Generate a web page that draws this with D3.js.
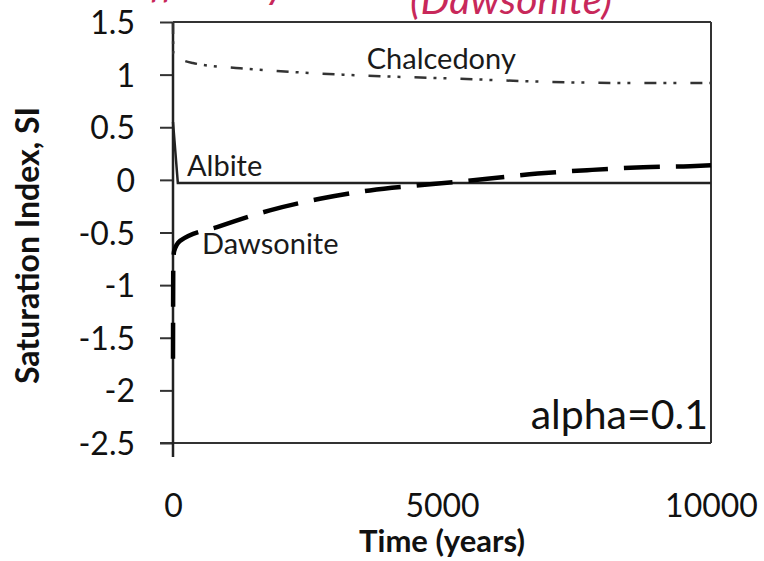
<!DOCTYPE html>
<html>
<head>
<meta charset="utf-8">
<script src="https://cdn.jsdelivr.net/npm/d3@7"></script>
<style>
  body { margin: 0; background: #fff; }
  svg { display: block; font-family: Lato, "Noto Sans", sans-serif; }
</style>
</head>
<body>
<div id="chart"></div>
<script>
// values
const yTicks = [1.5, 1, 0.5, 0, -0.5, -1, -1.5, -2, -2.5];
const xTicks = [0, 5000, 10000];

const chalcedonyTime = [0, 5, 100, 370, 1250, 1930, 2730, 3600, 5350, 7060, 8700, 10000];
const chalcedonySI   = [1.5, 1.2, 1.16, 1.11, 1.06, 1.035, 1.01, 0.99, 0.96, 0.93, 0.92, 0.92];

const albiteTime = [0, 90, 5000, 10000];
const albiteSI   = [0.55, -0.03, -0.03, -0.03];

const dawsoniteTime = [0, 5, 20, 130, 874, 1800, 2730, 3660, 4830, 5840, 6780, 7790, 8740, 9610, 10000];
const dawsoniteSI   = [-1.7, -0.8, -0.68, -0.58, -0.44, -0.29, -0.18, -0.1, -0.04, 0.01, 0.06, 0.095, 0.12, 0.13, 0.14];

const W = 764, H = 561;
const svg = d3.select("#chart").append("svg")
  .attr("width", W).attr("height", H);

const x = d3.scaleLinear().domain([0, 10000]).range([173, 711]);
const y = d3.scaleLinear().domain([-2.5, 1.5]).range([443, 22]);

// title, cut off at the top of the picture
svg.append("text")
  .attr("x", 112).attr("y", -2)
  .style("font-size", "41px").style("font-style", "italic")
  .style("fill", "#c8285a")
  .text("Diffusivity");
svg.append("text")
  .attr("x", 410).attr("y", 14)
  .style("font-size", "41px").style("font-style", "italic")
  .style("fill", "#c8285a")
  .text("(Dawsonite)");

// frame (top and right)
svg.append("line")
  .attr("x1", x(0)).attr("x2", x(10000))
  .attr("y1", y(1.5)).attr("y2", y(1.5))
  .attr("stroke", "#333").attr("stroke-width", 2);
svg.append("line")
  .attr("x1", x(10000)).attr("x2", x(10000))
  .attr("y1", y(1.5)).attr("y2", y(-2.5))
  .attr("stroke", "#333").attr("stroke-width", 2);

// y axis
const yAxis = svg.append("g")
  .attr("transform", `translate(${x(0)},0)`)
  .call(d3.axisLeft(y).tickValues(yTicks).tickSize(13).tickPadding(25)
    .tickFormat(d => String(d)));
yAxis.select(".domain").remove();
yAxis.selectAll(".tick line").attr("stroke", "#333").attr("stroke-width", 2);
yAxis.selectAll(".tick text")
  .attr("dy", "0.36em")
  .style("font-size", "32px").style("font-family", "Lato")
  .style("fill", "#111");

// x axis
const xAxis = svg.append("g")
  .attr("transform", `translate(0,${y(-2.5)})`)
  .call(d3.axisBottom(x).tickValues(xTicks).tickSize(0)
    .tickFormat(d => String(d)));
xAxis.select(".domain").remove();
xAxis.selectAll(".tick text")
  .attr("y", 74).attr("dy", null)
  .style("font-size", "32px").style("font-family", "Lato")
  .style("fill", "#111");

// axis lines
svg.append("line")
  .attr("x1", x(0) - 13).attr("x2", x(10000))
  .attr("y1", y(-2.5)).attr("y2", y(-2.5))
  .attr("stroke", "#333").attr("stroke-width", 2);
svg.append("line")
  .attr("x1", x(0)).attr("x2", x(0))
  .attr("y1", y(1.5)).attr("y2", y(-2.5) + 14)
  .attr("stroke", "#222").attr("stroke-width", 2.5);

// axis titles
svg.append("text")
  .attr("x", x(5000)).attr("y", 552)
  .attr("text-anchor", "middle")
  .style("font-size", "31px").style("font-weight", "bold")
  .style("fill", "#111")
  .text("Time (years)");
svg.append("text")
  .attr("transform", `translate(39,${y(-0.5) + 13}) rotate(-90)`)
  .attr("text-anchor", "middle")
  .style("font-size", "32px").style("font-weight", "bold")
  .style("fill", "#111")
  .text("Saturation Index, SI");

// curves
const line = d3.line()
  .x(d => x(d[0]))
  .y(d => y(d[1]))
  .curve(d3.curveMonotoneX);

svg.append("path")
  .datum(d3.zip(chalcedonyTime, chalcedonySI))
  .attr("d", line)
  .attr("fill", "none")
  .attr("stroke", "#333")
  .attr("stroke-width", 2.5)
  .attr("stroke-dasharray", "12,7,3,7,3,14");

svg.append("path")
  .datum(d3.zip(albiteTime, albiteSI))
  .attr("d", d3.line().x(d => x(d[0])).y(d => y(d[1])))
  .attr("fill", "none")
  .attr("stroke", "#222")
  .attr("stroke-width", 2.5);

svg.append("path")
  .datum(d3.zip(dawsoniteTime, dawsoniteSI))
  .attr("d", line)
  .attr("fill", "none")
  .attr("stroke", "#000")
  .attr("stroke-width", 4.5)
  .attr("stroke-dasharray", "36,16");

// curve labels
const labels = [
  { text: "Chalcedony", t: 3600, v: 1.05 },
  { text: "Albite", t: 260, v: 0.04 },
  { text: "Dawsonite", t: 540, v: -0.7 }
];
svg.selectAll(".curve-label")
  .data(labels)
  .enter()
  .append("text")
  .attr("class", "curve-label")
  .attr("x", d => x(d.t))
  .attr("y", d => y(d.v))
  .style("font-size", "29px")
  .style("fill", "#1a1a1a")
  .text(d => d.text);

svg.append("text")
  .attr("x", x(10000) - 3).attr("y", y(-2.37))
  .attr("text-anchor", "end")
  .style("font-size", "41px")
  .style("fill", "#111")
  .text("alpha=0.1");
</script>
</body>
</html>
